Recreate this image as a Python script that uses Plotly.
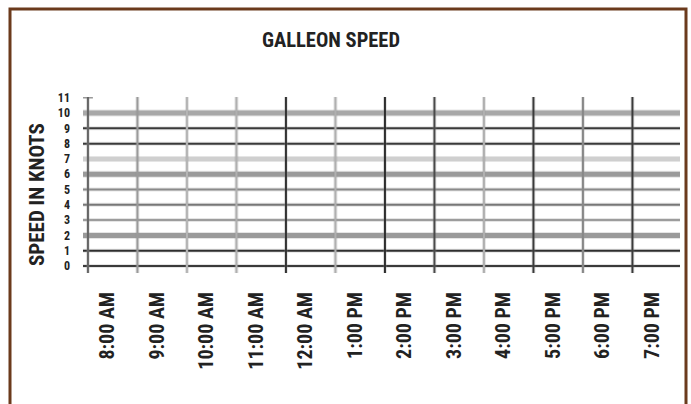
import plotly.graph_objects as go

# ---- data ----
title_text = "GALLEON SPEED"
y_title = "SPEED IN KNOTS"
time_labels = ["8:00 AM", "9:00 AM", "10:00 AM", "11:00 AM", "12:00 AM", "1:00 PM",
               "2:00 PM", "3:00 PM", "4:00 PM", "5:00 PM", "6:00 PM", "7:00 PM"]
speed_ticks = [0, 1, 2, 3, 4, 5, 6, 7, 8, 9, 10, 11]

# ---- styling ----
NARROW = "Roboto Condensed, Liberation Sans Narrow, sans-serif"
W, H = 691, 404
ML, MT = 83, 97
PW = 680 - 83
PH = 273 - 97
MR, MB = W - ML - PW, H - MT - PH

# horizontal gridline styles per speed value: (color, width)
h_styles = {0: ("#3a3a3a", 2), 1: ("#2e2e2e", 2), 2: ("#9a9a9a", 5), 3: ("#9c9c9c", 2),
            4: ("#777777", 2), 5: ("#8a8a8a", 2), 6: ("#9a9a9a", 5), 7: ("#cfcfcf", 4),
            8: ("#3a3a3a", 2), 9: ("#3a3a3a", 2), 10: ("#a8a8a8", 5)}
# vertical gridline styles per time index
v_styles = ["#666666", "#9a9a9a", "#b5b5b5", "#b0b0b0", "#333333", "#b0b0b0",
            "#2e2e2e", "#4a4a4a", "#b0b0b0", "#3a3a3a", "#888888", "#3a3a3a"]

fig = go.Figure()
# invisible trace to establish axes
fig.add_trace(go.Scatter(x=[0, len(time_labels) - 1], y=[speed_ticks[0], speed_ticks[-1]],
                         mode="markers", marker=dict(opacity=0), hoverinfo="skip",
                         showlegend=False))

shapes = []
x_left = -0.1
x_right = x_left + PW / 49.5
y_lo, y_hi = -0.46, 11.05
for v in speed_ticks:
    if v in h_styles:
        c, w = h_styles[v]
        shapes.append(dict(type="line", xref="x", yref="y", x0=x_left, x1=x_right, y0=v, y1=v,
                           line=dict(color="rgba(150,150,150,0.25)", width=w + 2), layer="below"))
        shapes.append(dict(type="line", xref="x", yref="y", x0=x_left, x1=x_right, y0=v, y1=v,
                           line=dict(color=c, width=w), layer="below"))
    else:
        shapes.append(dict(type="line", xref="x", yref="y", x0=x_left, x1=0.1, y0=v, y1=v,
                           line=dict(color="#999999", width=1.5), layer="below"))
for i, lab in enumerate(time_labels):
    c = v_styles[i]
    shapes.append(dict(type="line", xref="x", yref="y", x0=i, x1=i, y0=y_lo, y1=y_hi,
                       line=dict(color="rgba(150,150,150,0.25)", width=4), layer="below"))
    shapes.append(dict(type="line", xref="x", yref="y", x0=i, x1=i, y0=y_lo, y1=y_hi,
                       line=dict(color=c, width=2), layer="below"))

# pixel positions (page coordinates) converted to paper coords
def px_to_paper_x(px):
    return (px - ML) / PW
def py_to_paper_y(py):
    return (MT + PH - py) / PH
shapes.append(dict(type="rect", xref="paper", yref="paper",
                   x0=px_to_paper_x(10), x1=px_to_paper_x(686),
                   y0=py_to_paper_y(430), y1=py_to_paper_y(9),
                   line=dict(color="#6b3a1c", width=3), fillcolor="rgba(0,0,0,0)"))

fig.add_annotation(text=y_title, textangle=-90, showarrow=False,
                   xref="paper", yref="paper", x=px_to_paper_x(37), y=py_to_paper_y(195),
                   xanchor="center", yanchor="middle",
                   font=dict(family=NARROW, size=21, color="#222222", weight="bold"))

fig.update_layout(
    width=W, height=H,
    margin=dict(l=ML, r=MR, t=MT, b=MB),
    paper_bgcolor="white", plot_bgcolor="white",
    shapes=shapes,
    title=dict(text=title_text, x=px_to_paper_x(331), xref="paper", xanchor="center",
               y=1 - 40 / H, yref="container", yanchor="middle",
               font=dict(family=NARROW, size=20.5, color="#222222", weight="bold")),
    xaxis=dict(range=[x_left, x_right], showgrid=False, zeroline=False, showline=False,
               automargin=False,
               tickmode="array", tickvals=[i + 0.4 for i in range(len(time_labels))],
               ticktext=time_labels, tickangle=-90, ticks="", ticklabelstandoff=14,
               tickfont=dict(family=NARROW, size=20, color="#222222", weight="bold")),
    yaxis=dict(range=[y_lo, y_hi], showgrid=False, zeroline=False, showline=False,
               automargin=False,
               tickmode="array", tickvals=speed_ticks, ticktext=[str(v) for v in speed_ticks],
               ticks="", ticklabelstandoff=12,
               tickfont=dict(family=NARROW, size=12, color="#222222", weight="bold")),
)

fig.write_html("out.html", config={"displayModeBar": False}, post_script=(
    "document.body.style.margin='0';"
    "document.body.style.overflow='hidden';"
    "document.documentElement.style.overflow='hidden';"))
